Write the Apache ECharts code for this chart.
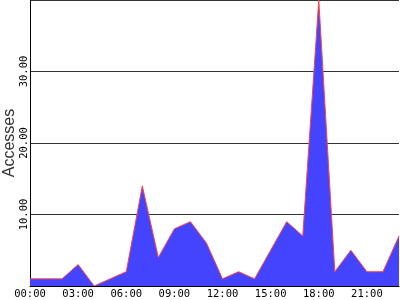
<!DOCTYPE html>
<html><head><meta charset="utf-8">
<script src="https://cdn.jsdelivr.net/npm/echarts@6/dist/echarts.min.js"></script>
<style>html,body{margin:0;padding:0;background:#fff}#c{width:400px;height:300px}</style>
</head><body><div id="c"></div>
<script>
var hours = ["00:00","01:00","02:00","03:00","04:00","05:00","06:00","07:00","08:00","09:00","10:00","11:00","12:00","13:00","14:00","15:00","16:00","17:00","18:00","19:00","20:00","21:00","22:00","23:00"];
var accesses = [1,1,1,3,0,1,2,14,4,8,9,6,1,2,1,5,9,7,40,2,5,2,2,7];
var yTicks = [0,10,20,30,40];

var chart = echarts.init(document.getElementById('c'), null, {renderer:'canvas'});
chart.setOption({
  animation:false,
  grid:{left:30,right:1,top:0,bottom:14,containLabel:false,outerBoundsMode:'none'},
  xAxis:{
    type:'category', data:hours, boundaryGap:false,
    axisLine:{show:true,lineStyle:{color:'#000',width:1}},
    axisTick:{show:false},
    axisLabel:{interval:2,margin:3,color:'#000',fontFamily:'DejaVu Sans Mono',fontSize:10.5},
    splitLine:{show:false}
  },
  yAxis:{
    type:'value', min:yTicks[0], max:yTicks[yTicks.length-1], interval:10,
    name:'Accesses', nameLocation:'middle', nameGap:12, nameMoveOverlap:false,
    nameTextStyle:{fontFamily:'Liberation Sans',fontSize:16,color:'#333'},
    axisLine:{show:true,lineStyle:{color:'#000',width:1}},
    axisTick:{show:false},
    axisLabel:{rotate:90,margin:0,color:'#000',fontFamily:'DejaVu Sans Mono',fontSize:10.5,
      showMinLabel:false,showMaxLabel:false,
      formatter:function(v){return v.toFixed(2);}},
    splitLine:{show:true,lineStyle:{color:'#333',width:1}}
  },
  series:[{
    type:'line', data:accesses, symbol:'none',
    lineStyle:{color:'#ff4444',width:1},
    areaStyle:{color:'#4444ff',opacity:1}
  }]
});
</script></body></html>
